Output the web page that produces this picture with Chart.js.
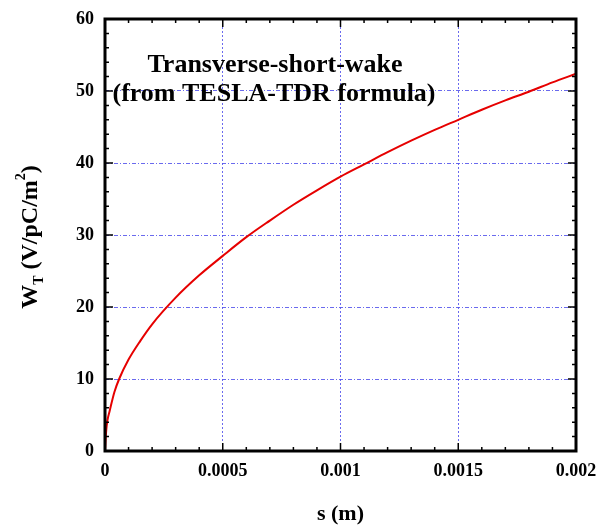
<!DOCTYPE html>
<html>
<head>
<meta charset="UTF-8">
<title>Transverse short wake</title>
<script src="https://cdn.jsdelivr.net/npm/chart.js"></script>
<style>
    body { margin: 0; padding: 0; background: #fff; }
    canvas { display: block; }
</style>
</head>
<body>
<canvas id="grafico" width="597" height="525"></canvas>
<script>
    // s (m) and W_T (V/pC/m^2)
    const sValues = [0, 0.000005, 0.00001, 0.00002, 0.00004, 0.00006, 0.0001, 0.00015, 0.0002, 0.0003,
        0.0004, 0.0005, 0.0006, 0.0007, 0.0008, 0.0009, 0.001, 0.0011, 0.0012, 0.0013,
        0.0014, 0.0015, 0.0016, 0.0017, 0.0018, 0.0019, 0.002];
    const wValues = [0, 2.8, 4.2, 5.6, 8.2, 10.0, 12.7, 15.3, 17.6, 21.3,
        24.4, 27.1, 29.7, 32.0, 34.2, 36.2, 38.1, 39.8, 41.5, 43.1,
        44.6, 46.0, 47.4, 48.7, 49.9, 51.2, 52.4];
    const xTickLabels = ['0', '0.0005', '0.001', '0.0015', '0.002'];
    const yTickLabels = ['0', '10', '20', '30', '40', '50', '60'];
    const titleLines = ['Transverse-short-wake', '(from TESLA-TDR formula)'];

    const serif = '"Liberation Serif", "DejaVu Serif", serif';
    const gridBlue = 'rgba(80, 80, 235, 0.85)';

    // frame, inward ticks and texts
    const decoracao = {
        id: 'decoracao',
        afterDraw(chart) {
            const ctx = chart.ctx;
            const a = chart.chartArea;
            const xs = chart.scales.x, ys = chart.scales.y;
            ctx.save();
            ctx.strokeStyle = '#000';

            // ticks
            ctx.lineWidth = 1.5;
            for (let i = 0; i <= 20; i++) {
                const px = xs.getPixelForValue(i * 0.0001);
                const len = i % 5 === 0 ? 8 : 4;
                ctx.beginPath();
                ctx.moveTo(px, a.bottom); ctx.lineTo(px, a.bottom - len);
                ctx.moveTo(px, a.top); ctx.lineTo(px, a.top + len);
                ctx.stroke();
            }
            for (let i = 0; i <= 30; i++) {
                const py = ys.getPixelForValue(i * 2);
                const len = i % 5 === 0 ? 8 : 4;
                ctx.beginPath();
                ctx.moveTo(a.left, py); ctx.lineTo(a.left + len, py);
                ctx.moveTo(a.right, py); ctx.lineTo(a.right - len, py);
                ctx.stroke();
            }

            // frame
            ctx.lineWidth = 3;
            ctx.strokeRect(a.left, a.top, a.right - a.left, a.bottom - a.top);

            // text inside the plot
            ctx.fillStyle = '#000';
            ctx.textAlign = 'center';
            ctx.textBaseline = 'alphabetic';
            ctx.font = 'bold 26px ' + serif;
            ctx.fillText(titleLines[0], 275, 72);
            ctx.fillText(titleLines[1], 274, 101);

            // x axis title
            ctx.font = 'bold 22px ' + serif;
            ctx.textBaseline = 'middle';
            ctx.fillText('s (m)', (a.left + a.right) / 2, 514);

            // y axis title with subscript and superscript
            ctx.translate(31, (a.top + a.bottom) / 2 + 2);
            ctx.rotate(-Math.PI / 2);
            const big = 'bold 24px ' + serif, small = 'bold 14px ' + serif;
            const partes = [
                { t: 'W', f: big, dy: 0 },
                { t: 'T', f: small, dy: 8 },
                { t: ' (V/pC/m', f: big, dy: 0 },
                { t: '2', f: small, dy: -10 },
                { t: ')', f: big, dy: 0 }
            ];
            let total = 0;
            partes.forEach(p => { ctx.font = p.f; p.w = ctx.measureText(p.t).width; total += p.w; });
            let x = -total / 2;
            ctx.textAlign = 'left';
            partes.forEach(p => {
                ctx.font = p.f;
                ctx.fillText(p.t, x, p.dy);
                x += p.w;
            });
            ctx.restore();
        }
    };

    new Chart(document.getElementById('grafico'), {
        type: 'line',
        data: {
            datasets: [{
                data: sValues.map((s, i) => ({ x: s, y: wValues[i] })),
                borderColor: 'rgb(230, 0, 0)',
                borderWidth: 2,
                pointRadius: 0,
                cubicInterpolationMode: 'monotone',
                fill: false
            }]
        },
        options: {
            responsive: false,
            animation: false,
            layout: { padding: { top: 19, right: 21, left: 0, bottom: 0 } },
            plugins: { legend: { display: false }, tooltip: { enabled: false } },
            scales: {
                x: {
                    type: 'linear',
                    min: 0,
                    max: 0.002,
                    afterFit(scale) {
                        scale.height = 74;
                        scale.paddingLeft = 0;
                        scale.paddingRight = 0;
                    },
                    grid: { color: gridBlue, lineWidth: 1, drawTicks: false },
                    border: { display: false, dash: [2, 2] },
                    ticks: {
                        stepSize: 0.0005,
                        padding: 10,
                        maxRotation: 0,
                        color: '#000',
                        font: { family: serif, size: 18, weight: 'bold' },
                        callback: (v, i) => xTickLabels[i]
                    }
                },
                y: {
                    min: 0,
                    max: 60,
                    afterFit(scale) {
                        scale.width = 105;
                        scale.paddingTop = 0;
                        scale.paddingBottom = 0;
                    },
                    grid: { color: gridBlue, lineWidth: 1, drawTicks: false },
                    border: { display: false, dash: [4, 2, 1, 2] },
                    ticks: {
                        stepSize: 10,
                        padding: 11,
                        color: '#000',
                        font: { family: serif, size: 18, weight: 'bold' },
                        callback: (v, i) => yTickLabels[i]
                    }
                }
            }
        },
        plugins: [decoracao]
    });
</script>
</body>
</html>
